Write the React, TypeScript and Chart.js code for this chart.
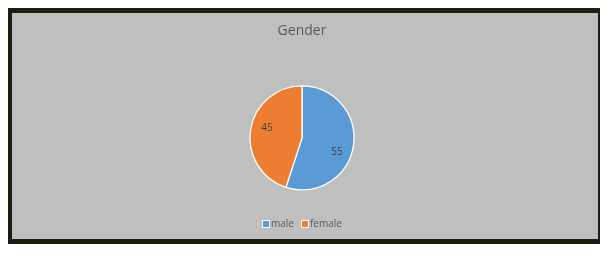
import React, { useEffect, useRef } from "react";
import { Chart, registerables } from "chart.js";

Chart.register(...registerables);

const titleText = "Gender";
const categories = ["male", "female"];
const values = [55, 45];
const colors = ["#5b9bd5", "#ed7d31"];

const FONT = "'Open Sans', 'DejaVu Sans', sans-serif";

const labelPlugin = {
  id: "sliceLabels",
  afterDatasetsDraw(chart: any) {
    const ctx = chart.ctx;
    const meta = chart.getDatasetMeta(0);
    ctx.save();
    ctx.font = `10px ${FONT}`;
    ctx.fillStyle = "#404040";
    ctx.textAlign = "center";
    ctx.textBaseline = "middle";
    meta.data.forEach((arc: any, i: number) => {
      const { x, y, startAngle, endAngle, outerRadius } = arc.getProps(
        ["x", "y", "startAngle", "endAngle", "outerRadius"],
        true
      );
      const mid = (startAngle + endAngle) / 2 + (10 * Math.PI) / 180;
      const r = outerRadius * 0.71;
      ctx.fillText(String(values[i]), x + Math.cos(mid) * r, y + Math.sin(mid) * r + 2);
    });
    ctx.restore();
  },
};

const legendPlugin = {
  id: "customLegend",
  afterDraw(chart: any) {
    const ctx = chart.ctx;
    ctx.save();
    ctx.font = `10px ${FONT}`;
    ctx.textBaseline = "middle";
    ctx.textAlign = "left";
    const box = 7;
    const gap = 2;
    const spacing = 7;
    const widths = categories.map((c) => ctx.measureText(c).width);
    const total =
      widths.reduce((s, w) => s + box + gap + w, 0) + spacing * (categories.length - 1);
    const cx = (chart.chartArea.left + chart.chartArea.right) / 2;
    let x = Math.round(cx - total / 2);
    const y = chart.height - 15;
    categories.forEach((c, i) => {
      ctx.fillStyle = colors[i];
      ctx.fillRect(x + 0.5, y - box / 2, box, box);
      ctx.strokeStyle = "#ffffff";
      ctx.lineWidth = 1;
      ctx.strokeRect(x + 0.5, y - box / 2, box, box);
      ctx.fillStyle = "#595959";
      ctx.fillText(c, x + box + gap, y);
      x += box + gap + widths[i] + spacing;
    });
    ctx.restore();
  },
};

export default function App() {
  const ref = useRef<HTMLCanvasElement | null>(null);
  useEffect(() => {
    if (!ref.current) return;
    const chart = new Chart(ref.current, {
      type: "pie",
      data: {
        labels: categories,
        datasets: [
          {
            data: values,
            backgroundColor: colors,
            borderColor: "#ffffff",
            borderWidth: 1.3,
            radius: 52,
          },
        ],
      },
      options: {
        animation: false,
        responsive: true,
        maintainAspectRatio: false,
        layout: { padding: { left: 0, right: 6, top: 0, bottom: 29 } },
        plugins: {
          tooltip: { enabled: false },
          legend: { display: false },
          title: {
            display: true,
            text: titleText,
            color: "#595959",
            font: { size: 14, family: FONT, weight: "normal" },
            padding: { top: 10, bottom: 26 },
          },
        },
      },
      plugins: [labelPlugin, legendPlugin],
    });
    return () => chart.destroy();
  }, []);

  return (
    <div
      style={{
        width: 596,
        height: 236,
        boxSizing: "border-box",
        border: "5px solid #1f1c10",
        background: "#bfbfbf",
        marginLeft: -1,
      }}
    >
      <div style={{ position: "relative", width: 586, height: 226 }}>
        <canvas ref={ref} />
      </div>
    </div>
  );
}
